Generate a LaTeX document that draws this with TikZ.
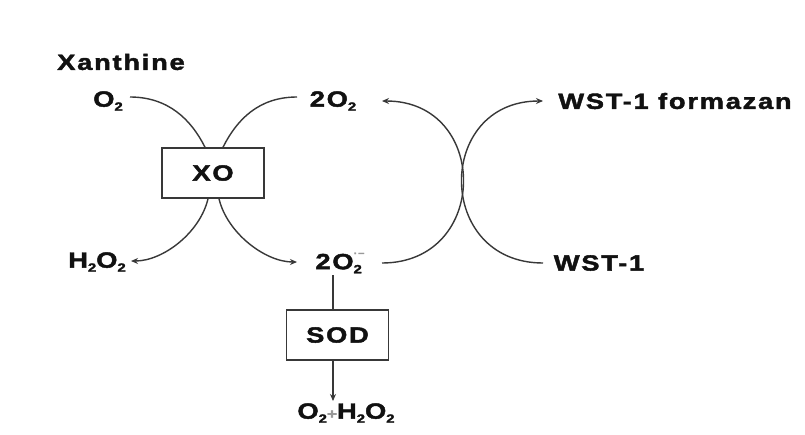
\documentclass[tikz,border=0pt]{standalone}
\usepackage{fontspec}
\usetikzlibrary{arrows.meta,calc}
\newfontfamily\labfont[UprightFont={* Bold},FakeStretch=1.24,LetterSpace=8,FakeBold=2]{Liberation Sans}
\newcommand\lo[1]{\raisebox{-0.35ex}{\fontsize{12}{12}\selectfont #1}}
\newcommand\hi[1]{\raisebox{1.1ex}{\fontsize{9}{9}\selectfont\textcolor{black!40}{#1}}}
\definecolor{ink}{HTML}{111111}
\definecolor{linec}{HTML}{383838}
\tikzset{
  lab/.style={inner sep=0pt, text=ink, font=\labfont\fontsize{22}{26}\selectfont},
  box/.style={draw=linec, line width=1.5pt, minimum width=102pt, minimum height=50pt, inner sep=0pt, text=ink, font=\labfont\fontsize{22}{26}\selectfont},
  line/.style={draw=linec, line width=1.4pt},
  arr/.style={line, -{Stealth[length=7pt,width=6pt]}}
}
\begin{document}
\begin{tikzpicture}[x=1pt,y=-1pt]
\useasboundingbox[fill=white] (0,0) rectangle (805,434);
% text nodes
\node[lab] (xan) at (121,62) {Xanthine};
\node[lab] (o2) at (108,101) {O\lo{2}};
\node[lab] (top) at (333,101) {2O\lo{2}};
\node[box] (xo) at (213,173) {XO};
\node[lab] (h2o2) at (97,262) {H\lo{2}O\lo{2}};
\node[lab] (sup) at (340,263) {2O\rlap{\lo{2}}\hi{·−}};
\node[box] (sod) at (337.5,335) {SOD};
\node[lab] (prod) at (346,413) {O\lo{2}\textcolor{black!40}{\fontsize{14}{14}\selectfont +}H\lo{2}O\lo{2}};
\node[lab] (form) at (675,101) {WST-1 formazan};
\node[lab] (wst) at (599,263) {WST-1};
% anchor points for connectors
\coordinate (o2r) at (130,97);
\coordinate (topl) at (297,97);
\coordinate (xonl) at ($(xo.north)+(-8,0)$);
\coordinate (xonr) at ($(xo.north)+(10,0)$);
\coordinate (xosl) at ($(xo.south)+(-5,0)$);
\coordinate (xosr) at ($(xo.south)+(6,0)$);
\coordinate (h2o2r) at (131,261);
\coordinate (supl) at (297,262);
\coordinate (supr) at (382,263);
\coordinate (topr) at (382,101);
\coordinate (wstl) at (543,263);
\coordinate (forml) at (543,101);
\coordinate (supb) at (333,275);
\coordinate (sodt) at (333,310);
\coordinate (sodb) at (333,360);
\coordinate (prodt) at (333,401);
% XO reactions
\draw[line] (o2r) .. controls +(38,0) and +(-14,-28) .. (xonl);
\draw[line] (topl) .. controls +(-38,0) and +(14,-28) .. (xonr);
\draw[arr] (xosl) .. controls +(-8,34) and +(32,0) .. (h2o2r);
\draw[arr] (xosr) .. controls +(8,34) and +(-32,0) .. (supl);
% WST-1 cycle
\draw[arr] (supr) .. controls +(108,0) and +(108,0) .. (topr);
\draw[arr] (wstl) .. controls +(-108,0) and +(-108,0) .. (forml);
% SOD
\draw[line] (supb) -- (sodt);
\draw[arr] (sodb) -- (prodt);
\end{tikzpicture}
\end{document}
